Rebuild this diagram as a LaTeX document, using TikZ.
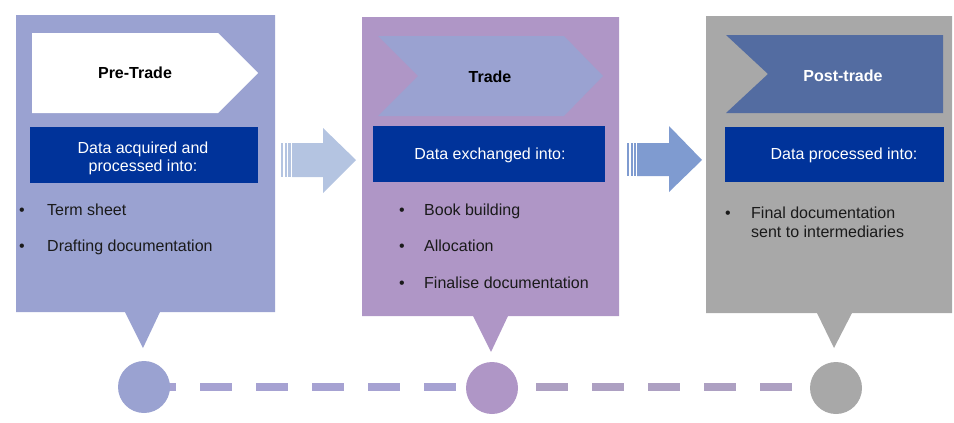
\documentclass[tikz,border=0pt]{standalone}
\usepackage{fontspec}
\setmainfont{Liberation Sans}
\usetikzlibrary{backgrounds}
\definecolor{panA}{HTML}{9AA2D1}
\definecolor{panB}{HTML}{AF96C6}
\definecolor{panC}{HTML}{A8A8A8}
\definecolor{navy}{HTML}{00339A}
\definecolor{chevC}{HTML}{536CA1}
\definecolor{arrA}{HTML}{B4C4E1}
\definecolor{arrB}{HTML}{7F9BD0}
\definecolor{dashA}{HTML}{A6A2D2}
\definecolor{dashB}{HTML}{ADA0C2}
\definecolor{ink}{HTML}{1A1A1A}
\tikzset{
  txt/.style={inner sep=0pt, font=\fontsize{16}{19}\selectfont, text=ink},
  hdr/.style={inner sep=0pt, font=\fontsize{16}{19}\selectfont\bfseries},
  boxtxt/.style={inner sep=0pt, align=center, font=\fontsize{16}{18}\selectfont, text=white},
  dot/.style={circle, inner sep=0pt, minimum size=52pt},
  link/.style={line width=8pt, dash pattern=on 32pt off 24pt},
}
\begin{document}
\begin{tikzpicture}[x=1pt,y=-1pt]
\useasboundingbox (0,0) rectangle (954,423);
% panels with callout tails
\fill[panA] (16,15) -- (275,15) -- (275,312) -- (160,312) -- (143,348) -- (125,312) -- (16,312) -- cycle;
\fill[panB] (362,17) -- (619,17) -- (619,316) -- (508,316) -- (491,352) -- (473,316) -- (362,316) -- cycle;
\fill[panC] (706,16) -- (952,16) -- (952,313) -- (852,313) -- (834,348) -- (817,313) -- (706,313) -- cycle;
% chevrons
\fill[white] (32,33) -- (218,33) -- (258,73) -- (218,113) -- (32,113) -- cycle;
\fill[panA] (378,36) -- (564,36) -- (603,76) -- (564,116) -- (378,116) -- (418,76) -- cycle;
\fill[chevC] (726,35) -- (943,35) -- (943,113) -- (726,113) -- (768,74) -- cycle;
\node[hdr, text=black] (h1) at (135,73) {Pre-Trade};
\node[hdr, text=black] (h2) at (490,77) {Trade};
\node[hdr, text=white] (h3) at (843,76) {Post-trade};
% navy boxes
\fill[navy] (30,127) rectangle (258,183);
\fill[navy] (373,126) rectangle (605,182);
\fill[navy] (725,127) rectangle (944,182);
\node[boxtxt] (t1) at (143,158) {Data acquired and\\processed into:};
\node[boxtxt] (t2) at (490,155) {Data exchanged into:};
\node[boxtxt] (t3) at (844,155) {Data processed into:};
% bullets
\node[txt, anchor=base west] (p1a) at (19,215) {•};
\node[txt, anchor=base west] (l1a) at (47,215) {Term sheet};
\node[txt, anchor=base west] (p1b) at (19,251) {•};
\node[txt, anchor=base west] (l1b) at (47,251) {Drafting documentation};
\node[txt, anchor=base west] (p2a) at (399,215) {•};
\node[txt, anchor=base west] (l2a) at (424,215) {Book building};
\node[txt, anchor=base west] (p2b) at (399,251) {•};
\node[txt, anchor=base west] (l2b) at (424,251) {Allocation};
\node[txt, anchor=base west] (p2c) at (399,288) {•};
\node[txt, anchor=base west] (l2c) at (424,288) {Finalise documentation};
\node[txt, anchor=base west] (p3a) at (725,218) {•};
\node[txt, anchor=base west, align=left] (l3a) at (751,218) {Final documentation};
\node[txt, anchor=base west, align=left] (l3b) at (751,237) {sent to intermediaries};
% block arrows between panels
\fill[arrA] (281,143) rectangle (283,177);
\fill[arrA] (284.5,143) rectangle (287,177);
\fill[arrA] (288,143) rectangle (291,177);
\fill[arrA] (292,143) -- (323,143) -- (323,128) -- (356,160) -- (323,193) -- (323,177) -- (292,177) -- cycle;
\fill[arrB] (627,143) rectangle (629,176);
\fill[arrB] (630.5,143) rectangle (632.5,176);
\fill[arrB] (633.5,143) rectangle (636,176);
\fill[arrB] (637,143) -- (669,143) -- (669,126) -- (702,160) -- (669,192) -- (669,176) -- (637,176) -- cycle;
% timeline
\node[dot, fill=panA] (c1) at (144,387) {};
\node[dot, fill=panB] (c2) at (492,388) {};
\node[dot, fill=panC] (c3) at (836,388) {};
\begin{scope}[on background layer]
\draw[link, dashA] (c1.center) -- (c2.center |- c1.center);
\draw[link, dashB, dash phase=12pt] (c2.center |- c1.center) -- (c3.center |- c1.center);
\end{scope}
\end{tikzpicture}
\end{document}
